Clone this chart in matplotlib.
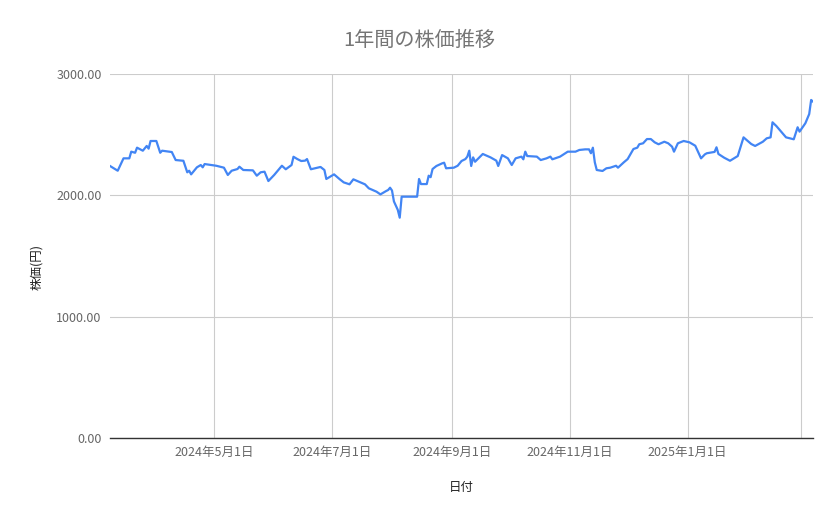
import matplotlib
matplotlib.use("Agg")
import matplotlib.pyplot as plt
import pandas as pd

plt.rcParams["font.family"] = ["Noto Sans CJK JP", "DejaVu Sans"]

# 日付と株価
dates = [
    "2024-03-08", "2024-03-12", "2024-03-15", "2024-03-18", "2024-03-19", "2024-03-21",
    "2024-03-22", "2024-03-25", "2024-03-27", "2024-03-28", "2024-03-29", "2024-04-01",
    "2024-04-03", "2024-04-04", "2024-04-09", "2024-04-11", "2024-04-15", "2024-04-17",
    "2024-04-18", "2024-04-19", "2024-04-22", "2024-04-24", "2024-04-25", "2024-04-26",
    "2024-05-02", "2024-05-06", "2024-05-08", "2024-05-10", "2024-05-13", "2024-05-14",
    "2024-05-16", "2024-05-21", "2024-05-23", "2024-05-25", "2024-05-27", "2024-05-29",
    "2024-06-01", "2024-06-05", "2024-06-07", "2024-06-10", "2024-06-11", "2024-06-13",
    "2024-06-15", "2024-06-17", "2024-06-18", "2024-06-20", "2024-06-25", "2024-06-27",
    "2024-06-28", "2024-07-02", "2024-07-05", "2024-07-07", "2024-07-10", "2024-07-12",
    "2024-07-18", "2024-07-20", "2024-07-24", "2024-07-26", "2024-07-29", "2024-07-30",
    "2024-07-31", "2024-08-01", "2024-08-02", "2024-08-04", "2024-08-05", "2024-08-06",
    "2024-08-14", "2024-08-15", "2024-08-16", "2024-08-19", "2024-08-20", "2024-08-21",
    "2024-08-22", "2024-08-24", "2024-08-27", "2024-08-28", "2024-08-29", "2024-09-02",
    "2024-09-04", "2024-09-06", "2024-09-08", "2024-09-09", "2024-09-10", "2024-09-11",
    "2024-09-12", "2024-09-13", "2024-09-17", "2024-09-21", "2024-09-24", "2024-09-25",
    "2024-09-27", "2024-09-30", "2024-10-02", "2024-10-04", "2024-10-07", "2024-10-08",
    "2024-10-09", "2024-10-10", "2024-10-15", "2024-10-17", "2024-10-20", "2024-10-22",
    "2024-10-23", "2024-10-27", "2024-10-31", "2024-11-04", "2024-11-06", "2024-11-09",
    "2024-11-11", "2024-11-12", "2024-11-13", "2024-11-14", "2024-11-15", "2024-11-18",
    "2024-11-20", "2024-11-22", "2024-11-25", "2024-11-26", "2024-11-29", "2024-12-01",
    "2024-12-04", "2024-12-06", "2024-12-07", "2024-12-09", "2024-12-11", "2024-12-13",
    "2024-12-15", "2024-12-17", "2024-12-20", "2024-12-22", "2024-12-24", "2024-12-25",
    "2024-12-27", "2024-12-30", "2025-01-02", "2025-01-05", "2025-01-08", "2025-01-10",
    "2025-01-11", "2025-01-14", "2025-01-15", "2025-01-16", "2025-01-17", "2025-01-20",
    "2025-01-23", "2025-01-27", "2025-01-30", "2025-02-03", "2025-02-05", "2025-02-09",
    "2025-02-11", "2025-02-13", "2025-02-14", "2025-02-16", "2025-02-19", "2025-02-21",
    "2025-02-25", "2025-02-27", "2025-02-28", "2025-03-03", "2025-03-05", "2025-03-06",
    "2025-03-07",
]
prices = [
    2242, 2203, 2305, 2305, 2360, 2351,
    2393, 2368, 2407, 2385, 2448, 2448,
    2351, 2368, 2357, 2291, 2285, 2190,
    2203, 2173, 2231, 2250, 2231, 2258,
    2244, 2228, 2168, 2203, 2217, 2236,
    2209, 2206, 2162, 2190, 2195, 2118,
    2168, 2244, 2215, 2250, 2318, 2299,
    2283, 2286, 2299, 2215, 2234, 2209,
    2135, 2173, 2132, 2107, 2091, 2132,
    2091, 2058, 2030, 2008, 2036, 2044,
    2063, 2040, 1950, 1880, 1816, 1989,
    1989, 2135, 2093, 2093, 2162, 2150,
    2217, 2242, 2264, 2269, 2223, 2228,
    2244, 2283, 2299, 2319, 2368, 2242,
    2313, 2277, 2341, 2313, 2286, 2242,
    2332, 2305, 2250, 2305, 2319, 2297,
    2360, 2324, 2319, 2291, 2305, 2319,
    2297, 2319, 2360, 2360, 2374, 2379,
    2379, 2347, 2393, 2272, 2209, 2201,
    2223, 2228, 2244, 2228, 2272, 2299,
    2382, 2393, 2421, 2429, 2464, 2464,
    2437, 2421, 2442, 2429, 2401, 2360,
    2429, 2448, 2437, 2409, 2305, 2338,
    2347, 2355, 2358, 2396, 2341, 2310,
    2285, 2324, 2478, 2423, 2407, 2442,
    2470, 2478, 2602, 2571, 2516, 2478,
    2462, 2561, 2525, 2594, 2670, 2786,
    2772,
]

tick_dates = ["2024-05-01", "2024-07-01", "2024-09-01", "2024-11-01", "2025-01-01", "2025-03-01"]
tick_labels = ["2024年5月1日", "2024年7月1日", "2024年9月1日", "2024年11月1日", "2025年1月1日", ""]
y_ticks = [0, 1000, 2000, 3000]

x = pd.to_datetime(dates)

fig = plt.figure(figsize=(8.39, 5.19), dpi=100)
ax = fig.add_axes([0.1311, 0.156, 0.838, 0.7014])

ax.plot(x, prices, color="#4285f4", linewidth=1.6, solid_joinstyle="round")

ax.set_xlim(x[0], x[-1])
ax.set_ylim(0, 3000)
ax.set_yticks(y_ticks)
ax.set_yticklabels([f"{v:.2f}" for v in y_ticks])
ax.set_xticks(pd.to_datetime(tick_dates))
ax.set_xticklabels(tick_labels)

ax.grid(True, color="#cccccc", linewidth=0.8)
ax.set_axisbelow(True)
for s in ["top", "right", "left"]:
    ax.spines[s].set_visible(False)
ax.spines["bottom"].set_color("#333333")
ax.spines["bottom"].set_linewidth(1.0)
ax.tick_params(length=0, labelsize=9, colors="#666666", pad=6)

ax.set_xlabel("日付", fontsize=9, color="#222222")
ax.xaxis.set_label_coords(0.5, -0.118)
ax.set_ylabel("株価(円)", fontsize=9, color="#222222")
ax.yaxis.set_label_coords(-0.095, 0.47)

fig.text(0.5, 1 - 40 / 519, "1年間の株価推移", ha="center", va="center",
         fontsize=14.5, color="#757575")

fig.savefig("out.png", dpi=100)
